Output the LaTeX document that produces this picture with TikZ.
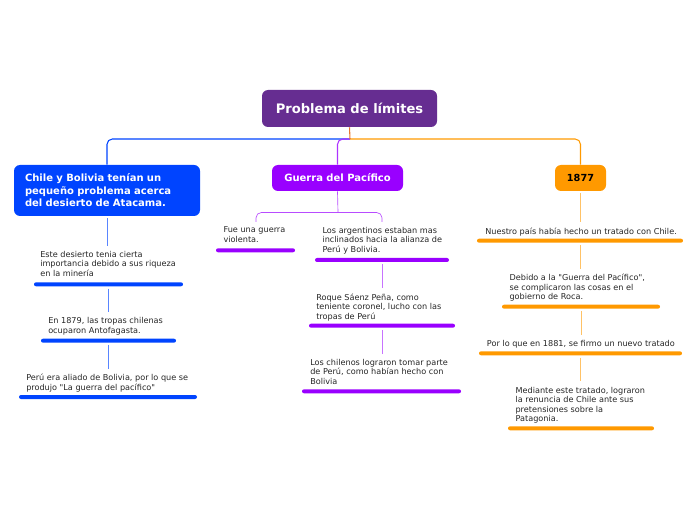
\documentclass[tikz,border=0pt]{standalone}
\usepackage{fontspec}
\setmainfont{DejaVu Sans}[Ligatures=TeXOff]
\usepackage{tikz}
\usetikzlibrary{positioning}

\definecolor{rootpurple}{HTML}{662D91}
\definecolor{topicblue}{HTML}{0044FF}
\definecolor{topicviolet}{HTML}{9900FF}
\definecolor{topicorange}{HTML}{FF9900}
\definecolor{stemorange}{HTML}{E8772E}

\newcommand\dq{\symbol{34}}

\tikzset{
    topic/.style={rounded corners=4.5pt, inner sep=0pt, text=white,
        font=\bfseries\fontsize{7.5}{9.4}\selectfont},
    leaf/.style={anchor=north west, inner sep=0pt, align=left,
        text=black!85, font=\fontsize{6.1}{7.1}\selectfont},
    bar/.style={fill=#1, rounded corners=1.5pt, inner sep=0pt,
        minimum height=3pt},
    link/.style={draw=#1, line width=0.8pt, rounded corners=4pt},
    spine/.style={draw=#1, line width=0.5pt, shorten <=1.5pt, shorten >=4pt}
}

\begin{document}
\begin{tikzpicture}[x=0.75pt, y=-0.75pt]
    \useasboundingbox (0,0) rectangle (696,520);

    % central topic and main branches
    \node[topic, fill=rootpurple, minimum width=131.25pt, minimum height=27.75pt,
        font=\bfseries\fontsize{9.8}{11}\selectfont] (root) at (349.5,108.5) {Problema de límites};
    \node[topic, fill=topicblue, minimum width=139.5pt, minimum height=38.25pt,
        text width=123pt, align=left] (chile) at (107,190.5)
        {Chile y Bolivia tenían un\\pequeño problema acerca\\del desierto de Atacama.};
    \node[topic, fill=topicviolet, minimum width=98.25pt, minimum height=19.5pt] (guerra) at (337.5,178) {Guerra del Pacífico};
    \node[topic, fill=topicorange, minimum width=38.25pt, minimum height=19.5pt, text=black,
        font=\bfseries\fontsize{7.3}{9}\selectfont] (y1877) at (580.5,178) {1877};

    \coordinate (hub) at (350,139);
    \draw[link=topicblue] (hub) -| (chile.north);
    \draw[link=topicviolet!80] (hub) -| (guerra.north);
    \draw[link=topicorange] (hub) -| (y1877.north);
    \draw[stemorange, line width=0.8pt] (root.south) -- (hub);

    % blue branch
    \node[leaf] (b1) at (40,251) {Este desierto tenia cierta\\importancia debido a sus riqueza\\en la minería};
    \node[bar=topicblue, minimum width=111.75pt] (b1bar) at (108.5,284.3) {};
    \node[leaf] (b2) at (48,317.5) {En 1879, las tropas chilenas\\ocuparon Antofagasta.};
    \node[bar=topicblue, minimum width=101.25pt] (b2bar) at (108.5,340.7) {};
    \node[leaf] (b3) at (26,374) {Perú era aliado de Bolivia, por lo que se\\produjo \dq La guerra del pacífico\dq};
    \node[bar=topicblue, minimum width=133.5pt] (b3bar) at (108,397) {};

    \draw[spine=topicblue!65] (chile.south) -- (chile.south |- b1.north);
    \draw[spine=topicblue!65] (b1bar.south) -- (b1bar.south |- b2.north);
    \draw[spine=topicblue!65] (b2bar.south) -- (b2bar.south |- b3.north);

    % violet branch
    \node[leaf] (p1) at (223.3,226.7) {Fue una guerra\\violenta.};
    \node[bar=topicviolet, minimum width=59.25pt] (p1bar) at (255.5,250.3) {};
    \node[leaf] (p2) at (322.3,226.7) {Los argentinos estaban mas\\inclinados hacia la alianza de\\Perú y Bolivia.};
    \node[bar=topicviolet, minimum width=100.5pt] (p2bar) at (382,260) {};
    \node[leaf] (p3) at (316,293.3) {Roque Sáenz Peña, como\\teniente coronel, lucho con las\\tropas de Perú};
    \node[bar=topicviolet, minimum width=109.5pt] (p3bar) at (382,325.7) {};
    \node[leaf] (p4) at (310,359) {Los chilenos lograron tomar parte\\de Perú, como habían hecho con\\Bolivia};
    \node[bar=topicviolet, minimum width=119.25pt] (p4bar) at (381.5,391.3) {};

    \coordinate (fork) at (338,212.5);
    \coordinate (pleft) at (256,222);
    \coordinate (pright) at (382,222);
    \draw[topicviolet!70, line width=0.5pt] (guerra.south) -- (fork);
    \draw[topicviolet!70, line width=0.5pt, rounded corners=4pt] (pleft) |- (fork) -| (pright);
    \draw[spine=topicviolet!55] (p2bar.south) -- (p2bar.south |- p3.north);
    \draw[spine=topicviolet!55] (p3bar.south) -- (p3bar.south |- p4.north);

    % orange branch
    \node[leaf] (o1) at (485,227.5) {Nuestro país había hecho un tratado con Chile.};
    \node[bar=topicorange, minimum width=154.5pt] (o1bar) at (580,240.7) {};
    \node[leaf] (o2) at (509.3,274) {Debido a la \dq Guerra del Pacífico\dq,\\se complicaron las cosas en el\\gobierno de Roca.};
    \node[bar=topicorange, minimum width=118.5pt] (o2bar) at (581,306.7) {};
    \node[leaf] (o3) at (486.7,340) {Por lo que en 1881, se firmo un nuevo tratado};
    \node[bar=topicorange, minimum width=152.25pt] (o3bar) at (580.5,353.3) {};
    \node[leaf] (o4) at (515.3,386.7) {Mediante este tratado, lograron\\la renuncia de Chile ante sus\\pretensiones sobre la\\Patagonia.};
    \node[bar=topicorange, minimum width=109.5pt] (o4bar) at (581,428.3) {};

    \draw[spine=topicorange!60] (y1877.south) -- (y1877.south |- o1.north);
    \draw[spine=topicorange!60] (o1bar.south) -- (o1bar.south |- o2.north);
    \draw[spine=topicorange!60] (o2bar.south) -- (o2bar.south |- o3.north);
    \draw[spine=topicorange!60] (o3bar.south) -- (o3bar.south |- o4.north);
\end{tikzpicture}
\end{document}
